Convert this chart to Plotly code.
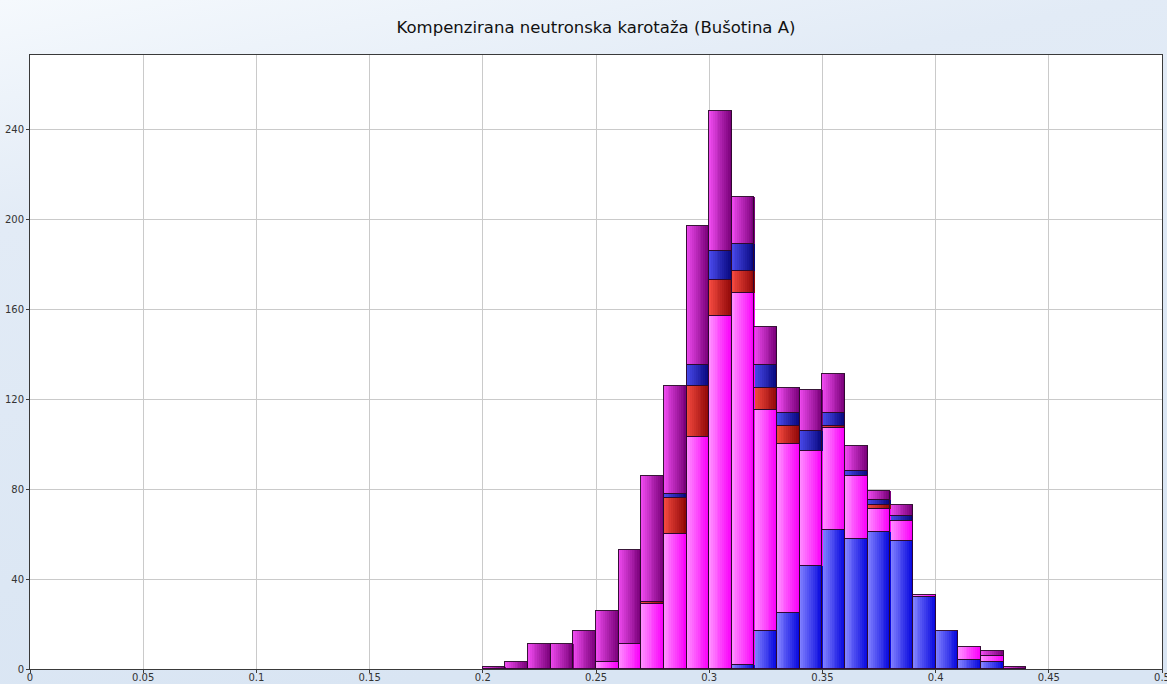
import base64
import plotly.graph_objects as go

# ---- data ----
bin_left = [0.20, 0.21, 0.22, 0.23, 0.24, 0.25, 0.26, 0.27, 0.28, 0.29, 0.30, 0.31,
            0.32, 0.33, 0.34, 0.35, 0.36, 0.37, 0.38, 0.39, 0.40, 0.41, 0.42, 0.43]
bin_width = 0.01

s_blue   = [0, 0, 0, 0, 0, 0, 0, 0, 0, 0, 0, 2, 17, 25, 46, 62, 58, 61, 57, 32, 17, 4, 3, 0]
s_pink   = [0, 0, 0, 0, 0, 3, 11, 29, 60, 103, 157, 165, 98, 75, 51, 45, 28, 10, 9, 1, 0, 6, 3, 0]
s_red    = [0, 0, 0, 0, 0, 0, 0, 1, 16, 23, 16, 10, 10, 8, 0, 1, 0, 2, 0, 0, 0, 0, 0, 0]
s_dblue  = [0, 0, 0, 0, 0, 0, 0, 0, 2, 9, 13, 12, 10, 6, 9, 6, 2, 2, 2, 0, 0, 0, 0, 0]
s_purple = [1, 3, 11, 11, 17, 23, 42, 56, 48, 62, 62, 21, 17, 11, 18, 17, 11, 4, 5, 0, 0, 0, 2, 1]

x_ticks = [0, 0.05, 0.1, 0.15, 0.2, 0.25, 0.3, 0.35, 0.4, 0.45, 0.5]
x_tick_labels = ["0", "0.05", "0.1", "0.15", "0.2", "0.25", "0.3", "0.35", "0.4", "0.45", "0.5"]
y_ticks = [0, 40, 80, 120, 160, 200, 240]

series = [
    ("Serija 1", s_blue,   (128, 128, 255), (8, 8, 222)),
    ("Serija 2", s_pink,   (255, 140, 255), (250, 0, 250)),
    ("Serija 3", s_red,    (242, 72, 62),   (145, 8, 8)),
    ("Serija 4", s_dblue,  (72, 72, 232),   (8, 8, 128)),
    ("Serija 5", s_purple, (236, 72, 236),  (122, 0, 122)),
]

title_text = "Kompenzirana neutronska karotaža (Bušotina A)"

# ---- figure ----
fig = go.Figure()

N_SLICES = 12
w = bin_width / N_SLICES

def mix(c1, c2, t):
    return "rgb(%d,%d,%d)" % tuple(round(a + (b - a) * t) for a, b in zip(c1, c2))

# gradient fill: each bar split into thin vertical slices of varying shade
for k in range(N_SLICES):
    t = k / (N_SLICES - 1)
    xs = [round(b + (k + 0.5) * w, 6) for b in bin_left]
    for name, vals, c_left, c_right in series:
        fig.add_trace(go.Bar(
            x=xs, y=vals, width=w * 1.2, name=name,
            marker=dict(color=mix(c_left, c_right, t), line=dict(width=0)),
            showlegend=False, hoverinfo="skip",
        ))

# outlines of each stacked segment (on an overlaid, hidden x axis)
centers = [round(b + bin_width / 2, 6) for b in bin_left]
for name, vals, c_left, c_right in series:
    fig.add_trace(go.Bar(
        x=centers, y=[v if v else None for v in vals], width=bin_width, name=name,
        xaxis="x2",
        marker=dict(color="rgba(0,0,0,0)", line=dict(color="rgba(45,10,45,0.95)", width=1)),
        showlegend=False,
    ))

# background gradient for the page
L, R, T, B = 30, 5, 55, 15
W, H = 1167, 684
pw, ph = W - L - R, H - T - B
svg = ('<svg xmlns="http://www.w3.org/2000/svg" width="1167" height="684">'
       '<defs><linearGradient id="g" x1="0" y1="0" x2="0.35" y2="1">'
       '<stop offset="0" stop-color="#f5f9fd"/>'
       '<stop offset="0.3" stop-color="#e2ebf6"/>'
       '<stop offset="1" stop-color="#d9e5f3"/>'
       '</linearGradient></defs>'
       '<rect width="1167" height="684" fill="url(#g)"/></svg>')
src = "data:image/svg+xml;base64," + base64.b64encode(svg.encode()).decode()

axis_common = dict(
    showgrid=True, gridcolor="#cacaca", gridwidth=1,
    showline=True, linecolor="#3a3a3a", linewidth=1, mirror=True,
    ticks="outside", ticklen=3, tickcolor="#3a3a3a",
    tickfont=dict(family="Verdana, DejaVu Sans, sans-serif", size=10, color="#333333"),
    zeroline=False, ticklabeloverflow="allow",
)

fig.update_layout(
    width=W, height=H,
    margin=dict(l=L, r=R, t=T, b=B, autoexpand=False),
    barmode="stack", bargap=0,
    paper_bgcolor="#e4edf7", plot_bgcolor="white",
    title=dict(text=title_text, x=0.5, xref="paper", xanchor="center",
               y=1 - 27 / H, yref="container", yanchor="middle",
               font=dict(family="Verdana, DejaVu Sans, sans-serif", size=16.5, color="#111111")),
    xaxis=dict(range=[0, 0.5000001], tickmode="array", tickvals=x_ticks,
               ticktext=x_tick_labels, ticklabelstandoff=-4, **axis_common),
    xaxis2=dict(range=[0, 0.5000001], overlaying="x", visible=False),
    yaxis=dict(range=[0, 273], tickmode="array", tickvals=y_ticks, **axis_common),
    showlegend=False,
    images=[dict(source=src, xref="paper", yref="paper",
                 x=-L / pw, y=1 + T / ph, sizex=W / pw, sizey=H / ph,
                 xanchor="left", yanchor="top", sizing="stretch", layer="below")],
    shapes=[dict(type="rect", xref="paper", yref="paper", x0=0, x1=1, y0=0, y1=1,
                 fillcolor="white", line=dict(width=0), layer="below")],
)

fig.write_html(
    "out.html",
    config={"displayModeBar": False},
    post_script="document.body.style.margin='0';document.body.style.padding='0';",
)
